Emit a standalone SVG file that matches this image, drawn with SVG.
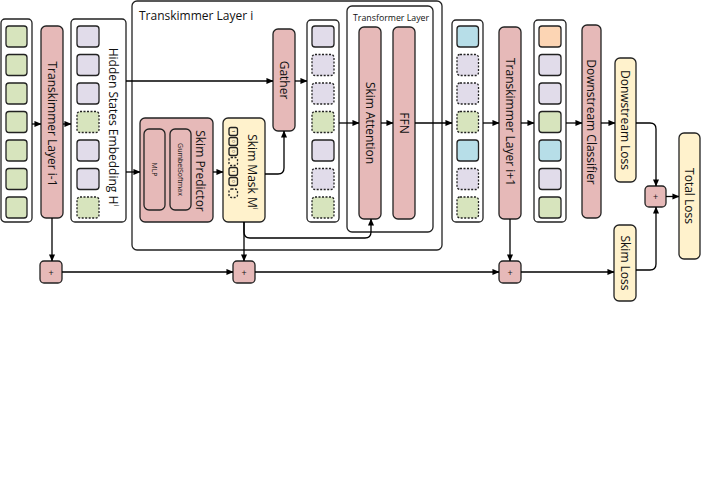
<svg xmlns="http://www.w3.org/2000/svg" width="706" height="484" viewBox="0 0 706 484">
<defs>
<marker id="ah" viewBox="0 0 8 8" refX="7.5" refY="4" markerWidth="7" markerHeight="7" markerUnits="userSpaceOnUse" orient="auto">
<path d="M0,0.5 L8,4 L0,7.5 Z" fill="#000"/>
</marker>
<style>
text{font-family:"Open Sans","Noto Sans","DejaVu Sans",sans-serif;fill:#111}
.box{stroke:#222;stroke-width:1.3}
.cont{fill:#fff;stroke:#222;stroke-width:1.3}
.pink{fill:#e6b9b8}
.yel{fill:#fff2cc}
.g{fill:#d7e4bd;stroke:#222;stroke-width:1.3}
.p{fill:#e1dcea;stroke:#222;stroke-width:1.3}
.b{fill:#b7dee8;stroke:#222;stroke-width:1.3}
.o{fill:#fcd5b4;stroke:#222;stroke-width:1.3}
.d{stroke-dasharray:2,1.5}
.lbl{font-size:12px}
.sm{font-size:7px}
.tiny{font-size:4px}
.ln{fill:none;stroke:#000;stroke-width:1.3}
</style>
</defs>

<g id="col0">
<rect class="cont" x="1" y="19" width="31" height="203" rx="4"/>
<rect class="g" x="6" y="26" width="21" height="21" rx="3"/>
<rect class="g" x="6" y="54.5" width="21" height="21" rx="3"/>
<rect class="g" x="6" y="83" width="21" height="21" rx="3"/>
<rect class="g" x="6" y="111.5" width="21" height="21" rx="3"/>
<rect class="g" x="6" y="140" width="21" height="21" rx="3"/>
<rect class="g" x="6" y="168.5" width="21" height="21" rx="3"/>
<rect class="g" x="6" y="197" width="21" height="21" rx="3"/>
</g>

<g id="layer-i-1">
<rect class="box pink" x="41" y="26" width="22" height="192" rx="5"/>
<text class="lbl" text-anchor="middle" dominant-baseline="central" transform="translate(52,124) rotate(90)">Transkimmer Layer i-1</text>
</g>

<g id="hidden">
<rect class="cont" x="71" y="19" width="55" height="203" rx="4"/>
<rect class="p" x="77" y="26" width="22" height="21" rx="3"/>
<rect class="p" x="77" y="54.5" width="22" height="21" rx="3"/>
<rect class="p" x="77" y="83" width="22" height="21" rx="3"/>
<rect class="g d" x="77" y="111.5" width="22" height="21" rx="3"/>
<rect class="p" x="77" y="140" width="22" height="21" rx="3"/>
<rect class="p" x="77" y="168.5" width="22" height="21" rx="3"/>
<rect class="g d" x="77" y="197" width="22" height="21" rx="3"/>
<text class="lbl" text-anchor="middle" dominant-baseline="central" transform="translate(113,127) rotate(90)">Hidden States Embedding H<tspan font-size="8" dy="-5">i</tspan></text>
</g>

<g id="layer-i">
<rect class="cont" x="132" y="1" width="310" height="249" rx="5" fill="none"/>
<text class="lbl" x="139" y="20">Transkimmer Layer i</text>
</g>

<g id="skim-predictor">
<rect class="box pink" x="140" y="118" width="73" height="104" rx="5"/>
<rect class="box pink" x="144" y="129" width="21" height="81" rx="5"/>
<text class="sm" text-anchor="middle" dominant-baseline="central" transform="translate(154.5,169.5) rotate(90)">MLP</text>
<rect class="box pink" x="170" y="129" width="21" height="81" rx="5"/>
<text class="sm" text-anchor="middle" dominant-baseline="central" transform="translate(180.5,169.5) rotate(90)">GumbelSoftmax</text>
<text class="lbl" text-anchor="middle" dominant-baseline="central" transform="translate(200,171) rotate(90)">Skim Predictor</text>
</g>

<g id="skim-mask">
<rect class="box yel" x="223" y="118" width="42" height="104" rx="5"/>
<rect class="box yel" x="229" y="127.5" width="8.5" height="8" rx="2"/>
<text class="tiny" text-anchor="middle" dominant-baseline="central" transform="translate(233.2,131.5) rotate(90)">1</text>
<rect class="box yel" x="229" y="137.5" width="8.5" height="8" rx="2"/>
<text class="tiny" text-anchor="middle" dominant-baseline="central" transform="translate(233.2,141.5) rotate(90)">0</text>
<rect class="box yel" x="229" y="147.5" width="8.5" height="8" rx="2"/>
<text class="tiny" text-anchor="middle" dominant-baseline="central" transform="translate(233.2,151.5) rotate(90)">0</text>
<rect class="box yel d" x="229" y="157.5" width="8.5" height="8" rx="2"/>
<rect class="box yel" x="229" y="167.5" width="8.5" height="8" rx="2"/>
<text class="tiny" text-anchor="middle" dominant-baseline="central" transform="translate(233.2,171.5) rotate(90)">1</text>
<rect class="box yel" x="229" y="177.5" width="8.5" height="8" rx="2"/>
<text class="tiny" text-anchor="middle" dominant-baseline="central" transform="translate(233.2,181.5) rotate(90)">0</text>
<rect class="box yel d" x="229" y="189" width="8.5" height="8.5" rx="2.5"/>
<text class="lbl" text-anchor="middle" dominant-baseline="central" transform="translate(252,172) rotate(90)">Skim Mask M<tspan font-size="8" dy="-5">i</tspan></text>
</g>

<g id="gather">
<rect class="box pink" x="273" y="29" width="22" height="102" rx="5"/>
<text class="lbl" text-anchor="middle" dominant-baseline="central" transform="translate(284,80) rotate(90)">Gather</text>
</g>

<g id="gathered">
<rect class="cont" x="307" y="20" width="32" height="202" rx="4"/>
<rect class="p" x="312" y="26" width="22" height="21" rx="3"/>
<rect class="p d" x="312" y="54.5" width="22" height="21" rx="3"/>
<rect class="p d" x="312" y="83" width="22" height="21" rx="3"/>
<rect class="g d" x="312" y="111.5" width="22" height="21" rx="3"/>
<rect class="p" x="312" y="140" width="22" height="21" rx="3"/>
<rect class="p d" x="312" y="168.5" width="22" height="21" rx="3"/>
<rect class="g d" x="312" y="197" width="22" height="21" rx="3"/>
</g>

<g id="transformer">
<rect class="cont" x="347" y="6" width="86" height="226" rx="5" fill="none"/>
<text x="353" y="21" font-size="8.8">Transformer Layer</text>
</g>

<g id="skim-attention">
<rect class="box pink" x="359" y="27" width="22" height="192" rx="5"/>
<text class="lbl" text-anchor="middle" dominant-baseline="central" transform="translate(370,123) rotate(90)">Skim Attention</text>
</g>

<g id="ffn">
<rect class="box pink" x="393" y="27" width="22" height="192" rx="5"/>
<text class="lbl" text-anchor="middle" dominant-baseline="central" transform="translate(404,123) rotate(90)">FFN</text>
</g>

<g id="out-i">
<rect class="cont" x="452" y="20" width="31" height="202" rx="4"/>
<rect class="b" x="457" y="26" width="21.5" height="21" rx="3"/>
<rect class="p d" x="457" y="54.5" width="21.5" height="21" rx="3"/>
<rect class="p d" x="457" y="83" width="21.5" height="21" rx="3"/>
<rect class="g d" x="457" y="111.5" width="21.5" height="21" rx="3"/>
<rect class="b" x="457" y="140" width="21.5" height="21" rx="3"/>
<rect class="p d" x="457" y="168.5" width="21.5" height="21" rx="3"/>
<rect class="g d" x="457" y="197" width="21.5" height="21" rx="3"/>
</g>

<g id="layer-i1">
<rect class="box pink" x="499" y="27" width="22" height="192" rx="5"/>
<text class="lbl" text-anchor="middle" dominant-baseline="central" transform="translate(510,122) rotate(90)">Transkimmer Layer i+1</text>
</g>

<g id="out-final">
<rect class="cont" x="534" y="20" width="32" height="202" rx="4"/>
<rect class="o" x="539" y="26" width="22" height="21" rx="3"/>
<rect class="p" x="539" y="54.5" width="22" height="21" rx="3"/>
<rect class="p" x="539" y="83" width="22" height="21" rx="3"/>
<rect class="g" x="539" y="111.5" width="22" height="21" rx="3"/>
<rect class="b" x="539" y="140" width="22" height="21" rx="3"/>
<rect class="p" x="539" y="168.5" width="22" height="21" rx="3"/>
<rect class="g" x="539" y="197" width="22" height="21" rx="3"/>
</g>

<g id="classifier">
<rect class="box pink" x="582" y="25" width="19" height="193" rx="5"/>
<text class="lbl" text-anchor="middle" dominant-baseline="central" transform="translate(591.5,122) rotate(90)">Downstream Classifier</text>
</g>

<g id="down-loss">
<rect class="box yel" x="615" y="58" width="21" height="124" rx="5"/>
<text class="lbl" text-anchor="middle" dominant-baseline="central" transform="translate(625.5,120) rotate(90)">Donwstream Loss</text>
</g>

<g id="skim-loss">
<rect class="box yel" x="614" y="225" width="22" height="76" rx="5"/>
<text class="lbl" text-anchor="middle" dominant-baseline="central" transform="translate(625,263) rotate(90)">Skim Loss</text>
</g>

<g id="total-loss">
<rect class="box yel" x="679" y="133" width="21" height="126" rx="5"/>
<text class="lbl" text-anchor="middle" dominant-baseline="central" transform="translate(689.5,196) rotate(90)">Total Loss</text>
</g>

<g id="plus1">
<rect class="box pink" x="40" y="261" width="22" height="22" rx="4"/>
<text x="51" y="272" font-size="9" text-anchor="middle" dominant-baseline="central">+</text>
</g>
<g id="plus2">
<rect class="box pink" x="233" y="261" width="22" height="22" rx="4"/>
<text x="244" y="272" font-size="9" text-anchor="middle" dominant-baseline="central">+</text>
</g>
<g id="plus3">
<rect class="box pink" x="499" y="261" width="22" height="22" rx="4"/>
<text x="510" y="272" font-size="9" text-anchor="middle" dominant-baseline="central">+</text>
</g>
<g id="plus4">
<rect class="box pink" x="645" y="186" width="21" height="21" rx="4"/>
<text x="655.5" y="196.5" font-size="9" text-anchor="middle" dominant-baseline="central">+</text>
</g>

<g id="connectors">
<path class="ln" d="M32,124 H41" marker-end="url(#ah)"/>
<path class="ln" d="M63,124 H71" marker-end="url(#ah)"/>
<path class="ln" d="M126,81 H273" marker-end="url(#ah)"/>
<path class="ln" d="M126,172 H140" marker-end="url(#ah)"/>
<path class="ln" d="M213,172 H223" marker-end="url(#ah)"/>
<path class="ln" d="M265,174 H278 Q284,174 284,168 V131" marker-end="url(#ah)"/>
<path class="ln" d="M295,81 H307" marker-end="url(#ah)"/>
<path class="ln" d="M339,123 H359" marker-end="url(#ah)"/>
<path class="ln" d="M381,123 H393" marker-end="url(#ah)"/>
<path class="ln" d="M415,123 H452" marker-end="url(#ah)"/>
<path class="ln" d="M244,222 V232 Q244,238 250,238 H365 Q371,238 371,232 V219" marker-end="url(#ah)"/>
<path class="ln" d="M244,222 V261" marker-end="url(#ah)"/>
<path class="ln" d="M52,218 V261" marker-end="url(#ah)"/>
<path class="ln" d="M510,219 V261" marker-end="url(#ah)"/>
<path class="ln" d="M483,123 H499" marker-end="url(#ah)"/>
<path class="ln" d="M521,123 H534" marker-end="url(#ah)"/>
<path class="ln" d="M566,123 H582" marker-end="url(#ah)"/>
<path class="ln" d="M601,123 H615" marker-end="url(#ah)"/>
<path class="ln" d="M62,272 H233" marker-end="url(#ah)"/>
<path class="ln" d="M255,272 H499" marker-end="url(#ah)"/>
<path class="ln" d="M521,272 H614" marker-end="url(#ah)"/>
<path class="ln" d="M636,123 H650 Q656,123 656,129 V186" marker-end="url(#ah)"/>
<path class="ln" d="M636,270 H650 Q656,270 656,264 V207" marker-end="url(#ah)"/>
<path class="ln" d="M666,196.5 H679" marker-end="url(#ah)"/>
</g>
</svg>
